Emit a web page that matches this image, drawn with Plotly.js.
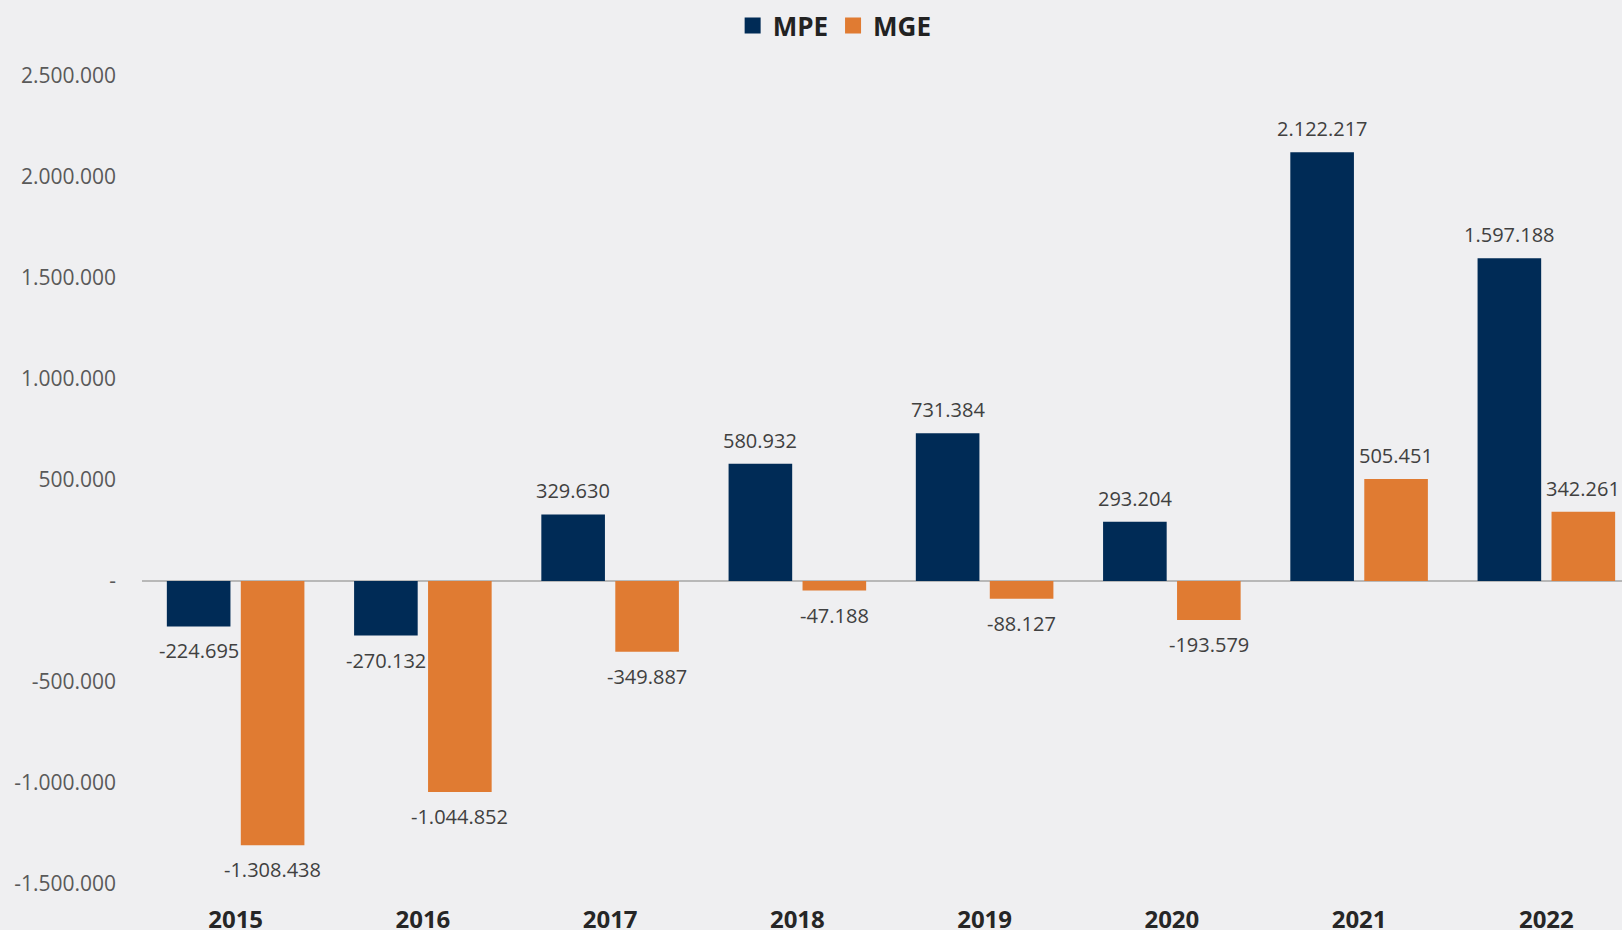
<!DOCTYPE html>
<html>
<head>
<meta charset="utf-8">
<script src="https://cdn.plot.ly/plotly-3.0.1.min.js"></script>
<style>
  html, body { margin: 0; padding: 0; background: #efeff1; }
  #chart { width: 1622px; height: 930px; }
</style>
</head>
<body>
<div id="chart"></div>
<script>
var years = ['2015', '2016', '2017', '2018', '2019', '2020', '2021', '2022'];
var mpe = [-224695, -270132, 329630, 580932, 731384, 293204, 2122217, 1597188];
var mge = [-1308438, -1044852, -349887, -47188, -88127, -193579, 505451, 342261];

var yTickVals = [-1500000, -1000000, -500000, 0, 500000, 1000000, 1500000, 2000000, 2500000];
var yTickText = ['-1.500.000', '-1.000.000', '-500.000', '-', '500.000', '1.000.000', '1.500.000', '2.000.000', '2.500.000'];

var navy = '#002b56';
var orange = '#e07b32';
var barGap = 0.21;

// 1234567 -> "1.234.567"
function fmt(v) {
  var s = String(Math.abs(v)).replace(/\B(?=(\d{3})+(?!\d))/g, '.');
  return (v < 0 ? '-' : '') + s;
}

var traces = [
  {
    type: 'bar',
    name: 'MPE',
    x: years,
    y: mpe,
    marker: { color: navy },
    showlegend: false
  },
  {
    type: 'bar',
    name: 'MGE',
    x: years,
    y: mge,
    marker: { color: orange },
    showlegend: false
  },
  // legend entries only (bigger square swatches than the bar legend gives)
  {
    type: 'scatter', mode: 'markers', name: 'MPE',
    x: [null], y: [null],
    marker: { symbol: 'square', size: 16, color: navy }
  },
  {
    type: 'scatter', mode: 'markers', name: 'MGE',
    x: [null], y: [null],
    marker: { symbol: 'square', size: 16, color: orange }
  }
];

// value labels, placed on the bars of each group (two bars per category)
var half = (1 - barGap) / 4;
var annotations = [];
[[mpe, -half], [mge, half]].forEach(function (s) {
  s[0].forEach(function (v, i) {
    annotations.push({
      xref: 'x', yref: 'y',
      x: i + s[1], y: v,
      text: fmt(v),
      showarrow: false,
      yanchor: v >= 0 ? 'bottom' : 'top',
      yshift: v >= 0 ? 8 : -9,
      font: { family: 'Open Sans, sans-serif', size: 20, color: '#404040' }
    });
  });
});

var layout = {
  width: 1622,
  height: 930,
  paper_bgcolor: '#efeff1',
  plot_bgcolor: '#efeff1',
  font: { family: 'Open Sans, sans-serif', color: '#404040' },
  margin: { l: 142, r: 0, t: 76, b: 46 },
  barmode: 'group',
  bargap: barGap,
  bargroupgap: 0.14,
  showlegend: true,
  legend: {
    orientation: 'h',
    x: 0.468,
    xanchor: 'center',
    y: 1.0625,
    yanchor: 'middle',
    font: { family: 'Open Sans, sans-serif', size: 26, color: '#222222', weight: 'bold' },
    itemwidth: 30,
    traceorder: 'normal'
  },
  annotations: annotations,
  xaxis: {
    type: 'category',
    range: [-0.5, 7.404],
    showgrid: false,
    showline: false,
    zeroline: false,
    ticks: '',
    ticklabelstandoff: 19,
    tickfont: { family: 'Open Sans, sans-serif', size: 24, color: '#262626', weight: 'bold' },
    fixedrange: true
  },
  yaxis: {
    range: [-1500000, 2500000],
    tickmode: 'array',
    tickvals: yTickVals,
    ticktext: yTickText,
    showgrid: false,
    showline: false,
    zeroline: true,
    zerolinecolor: '#b8b8b8',
    zerolinewidth: 2,
    ticks: '',
    ticklabelstandoff: 25,
    tickfont: { family: 'Open Sans, sans-serif', size: 21, color: '#595959' },
    automargin: false,
    fixedrange: true
  }
};

Plotly.newPlot('chart', traces, layout, { displayModeBar: false, staticPlot: true });
</script>
</body>
</html>
